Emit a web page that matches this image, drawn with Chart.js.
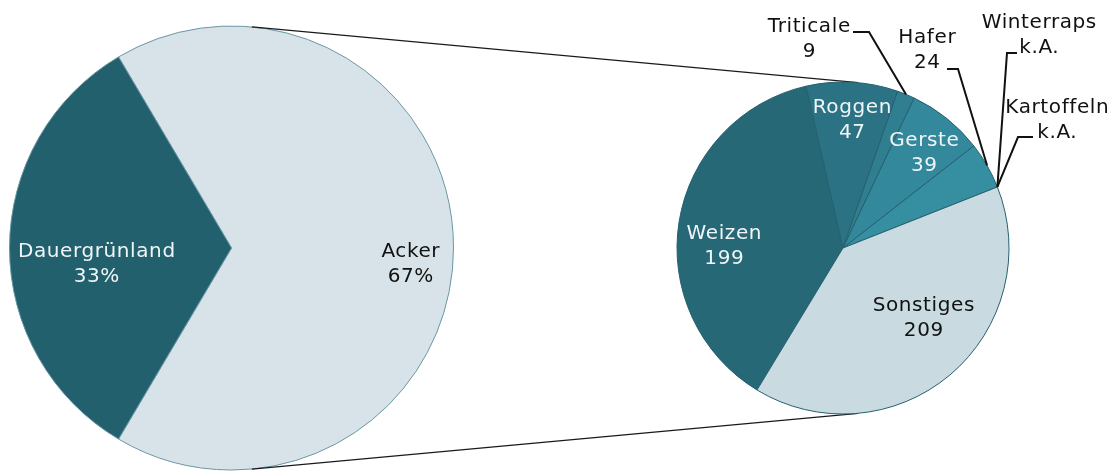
<!DOCTYPE html>
<html><head><meta charset="utf-8">
<script src="https://cdn.jsdelivr.net/npm/chart.js@4.4.0/dist/chart.umd.min.js"></script>
<style>
html,body{margin:0;padding:0;background:#fff;}
#wrap{position:relative;width:1119px;height:471px;overflow:hidden;}
canvas{position:absolute;left:0;top:0;}
</style></head><body>
<div id="wrap"><canvas id="c1" width="1119" height="471"></canvas><canvas id="c2" width="1119" height="471"></canvas></div>
<script>
// ---- data ----
const landLabels = ['Acker', 'Dauergrünland'];
const landShares = [67, 33];
const cropLabels = ['Weizen', 'Roggen', 'Triticale', 'Gerste', 'Hafer', 'Winterraps', 'Kartoffeln', 'Sonstiges'];
const cropValues = [199, 47, 9, 39, 24, null, null, 209];

// ---- styles ----
const landColors = ['#d8e3e9', '#23606e'];
const cropColors = ['#276877', '#2b7384', '#2f7f91', '#33889b', '#368ea1', '#368ea1', '#368ea1', '#c9dbe1'];
const LIGHT = '#f0f5f7', DARK = '#111111';
const FONT = '20px "DejaVu Sans", sans-serif';
const LINE_H = 25;

// label layout: text block centre relative to pie centre (px); optional leader [start, knee] (px)
const landLayout = [
  {pos: [179, 14.5], color: DARK},
  {pos: [-135, 14.5], color: LIGHT}
];
const cropLayout = [
  {pos: [-119, -3.5], color: LIGHT},
  {pos: [9, -129.5], color: LIGHT},
  {pos: [-34, -211], color: DARK, leader: [[10, -216], [26, -216]]},
  {pos: [81, -96.5], color: LIGHT},
  {pos: [84, -199.5], color: DARK, leader: [[104, -179], [115, -179]]},
  {pos: [196, -215], color: DARK, leader: [[174, -195], [164, -195]]},
  {pos: [214, -130], color: DARK, leader: [[190, -111], [175, -111]]},
  {pos: [80.5, 68], color: DARK}
];

function fmtVal(v, suffix) { return v === null || v === undefined ? 'k.A.' : String(v) + (suffix || ''); }

function makeLabelPlugin(layout, labels, values, suffix) {
  return {
    id: 'sliceLabels',
    afterDatasetsDraw(chart) {
      const ctx = chart.ctx;
      const meta = chart.getDatasetMeta(0);
      ctx.save();
      ctx.font = FONT;
      try { ctx.letterSpacing = '0.6px'; } catch (e) {}
      ctx.textAlign = 'center';
      ctx.textBaseline = 'alphabetic';
      meta.data.forEach((arc, i) => {
        const it = layout[i];
        if (!it) return;
        const p = arc.getProps(['x', 'y', 'outerRadius', 'startAngle', 'endAngle'], true);
        const tx = p.x + it.pos[0], ty = p.y + it.pos[1];
        if (it.leader) {
          const mid = (p.startAngle + p.endAngle) / 2;
          const ex = p.x + Math.cos(mid) * p.outerRadius, ey = p.y + Math.sin(mid) * p.outerRadius;
          ctx.beginPath();
          ctx.moveTo(p.x + it.leader[0][0], p.y + it.leader[0][1]);
          ctx.lineTo(p.x + it.leader[1][0], p.y + it.leader[1][1]);
          ctx.lineTo(ex, ey);
          ctx.strokeStyle = '#111';
          ctx.lineWidth = 2;
          ctx.lineJoin = 'miter';
          ctx.stroke();
        }
        ctx.fillStyle = it.color;
        ctx.fillText(labels[i], tx + 0.3, ty - LINE_H / 2 + 7);
        ctx.fillText(fmtVal(values[i], suffix), tx + 0.3, ty + LINE_H / 2 + 7);
      });
      ctx.restore();
    }
  };
}

const landTotal = landShares.reduce((a, b) => a + b, 0);
const leftChart = new Chart(document.getElementById('c1'), {
  type: 'pie',
  data: {labels: landLabels, datasets: [{data: landShares, backgroundColor: landColors, borderColor: '#6a97a3', borderWidth: 1}]},
  options: {
    responsive: false, animation: false, events: [],
    rotation: 90 - landShares[0] / landTotal * 180,
    radius: 222,
    layout: {padding: {left: 9.5, right: 665.5, top: 26, bottom: 1}},
    plugins: {legend: {display: false}, tooltip: {enabled: false}}
  },
  plugins: [makeLabelPlugin(landLayout, landLabels, landShares, '%')]
});

const connectorPlugin = {
  id: 'connectors',
  beforeDatasetsDraw(chart) {
    const L = leftChart.getDatasetMeta(0).data[0].getProps(['x', 'y', 'outerRadius'], true);
    const R = chart.getDatasetMeta(0).data[0].getProps(['x', 'y', 'outerRadius'], true);
    const d = Math.hypot(R.x - L.x, R.y - L.y);
    const th = Math.asin((L.outerRadius - R.outerRadius) / d);
    const ctx = chart.ctx;
    ctx.save();
    ctx.strokeStyle = '#1a1a1a';
    ctx.lineWidth = 1.3;
    ctx.beginPath();
    ctx.moveTo(L.x + L.outerRadius * Math.sin(th), L.y - L.outerRadius * Math.cos(th));
    ctx.lineTo(R.x + R.outerRadius * Math.sin(th), R.y - R.outerRadius * Math.cos(th));
    ctx.moveTo(L.x + L.outerRadius * Math.sin(th), L.y + L.outerRadius * Math.cos(th));
    ctx.lineTo(R.x + R.outerRadius * Math.sin(th), R.y + R.outerRadius * Math.cos(th));
    ctx.stroke();
    ctx.restore();
  }
};

new Chart(document.getElementById('c2'), {
  type: 'pie',
  data: {labels: cropLabels, datasets: [{data: cropValues, backgroundColor: cropColors, borderColor: '#25606e', borderWidth: 1}]},
  options: {
    responsive: false, animation: false, events: [],
    rotation: 211.2,
    radius: 166,
    layout: {padding: {left: 677, right: 110, top: 82, bottom: 57}},
    plugins: {legend: {display: false}, tooltip: {enabled: false}}
  },
  plugins: [connectorPlugin, makeLabelPlugin(cropLayout, cropLabels, cropValues, '')]
});
</script>
</body></html>
